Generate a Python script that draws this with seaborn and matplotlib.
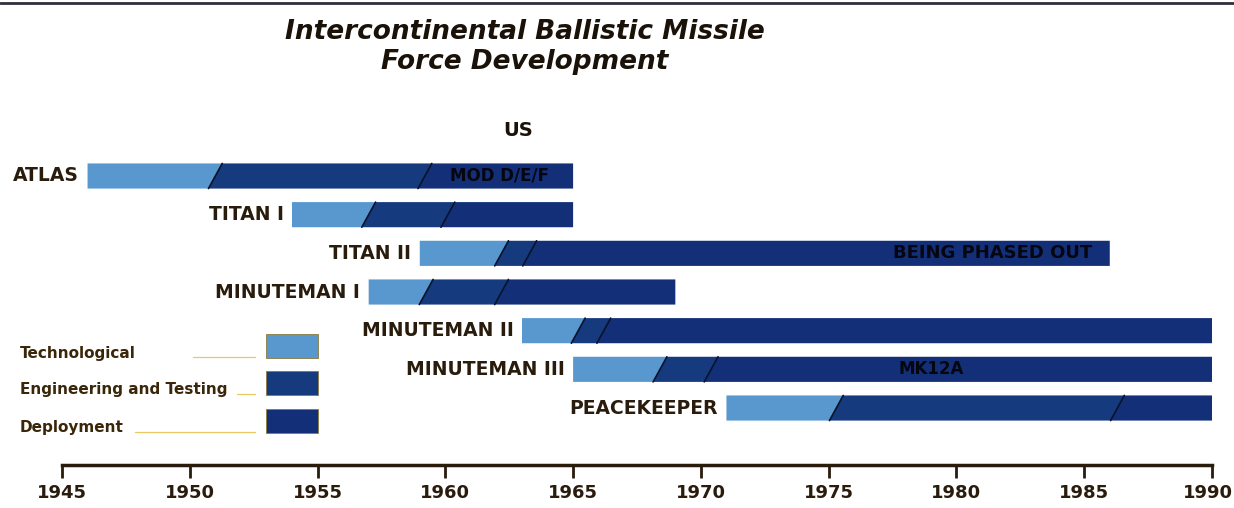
import matplotlib
matplotlib.use("Agg")
import matplotlib.pyplot as plt
import matplotlib.transforms as mtransforms
import seaborn as sns

# ICBM development phases (years)
missiles = ["ATLAS", "TITAN I", "TITAN II", "MINUTEMAN I",
            "MINUTEMAN II", "MINUTEMAN III", "PEACEKEEPER"]
tech_start = [1946.0, 1954.0, 1959.0, 1957.0, 1963.0, 1965.0, 1971.0]
eng_start = [1951.0, 1957.0, 1962.2, 1959.25, 1965.2, 1968.4, 1975.3]
deploy_start = [1959.2, 1960.1, 1963.3, 1962.2, 1966.2, 1970.4, 1986.3]
phase_end = [1965.0, 1965.0, 1986.0, 1969.0, 1990.0, 1990.0, 1990.0]

notes = ["MOD D/E/F", "", "BEING PHASED OUT", "", "", "MK12A", ""]
note_x = [1962.1, 0, 1981.4, 0, 0, 1979.0, 0]

phases = ["Technological", "Engineering and Testing", "Deployment"]
years = [1945, 1950, 1955, 1960, 1965, 1970, 1975, 1980, 1985, 1990]

sns.set_theme(style="white")
plt.rcParams["font.family"] = ["DejaVu Sans"]
colors = sns.color_palette(["#5898cf", "#163a7e", "#122f78"])
ink = "#2a1c0c"

fig = plt.figure(figsize=(12.34, 5.08), dpi=100)
ax = fig.add_axes([62 / 1234, 1 - 465 / 508, 1150 / 1234, 325 / 508])

h = 0.65
slant = 0.27


def segment(ax, row, x0, x1, s0, s1, color):
    top, bot = row - h / 2, row + h / 2
    xs = [x0 - s0, x0 + s0, x1 + s1, x1 - s1]
    ys = [bot, top, top, bot]
    ax.fill(xs, ys, color=color, lw=0)


for i, name in enumerate(missiles):
    bounds = [tech_start[i], eng_start[i], deploy_start[i], phase_end[i]]
    slants = [0, slant, slant, 0]
    for k in range(3):
        segment(ax, i, bounds[k], bounds[k + 1], slants[k], slants[k + 1], colors[k])
    for b in bounds[1:3]:
        ax.plot([b - slant, b + slant], [i + h / 2, i - h / 2], color="#08122a", lw=1.2)
    ax.text(tech_start[i] - 0.33, i, name, ha="right", va="center",
            fontsize=13.5, fontweight="bold", color=ink)
    if notes[i]:
        size = 13 if len(notes[i]) > 12 else 12
        ax.text(note_x[i], i, notes[i], ha="center", va="center",
                fontsize=size, fontweight="bold", color="#05060f")

# legend drawn as swatches with leader lines, like the original
leg_rows = [4.40, 5.35, 6.33]
leader_from = [1950.13, 1951.85, 1947.86]
for k, label in enumerate(phases):
    r = leg_rows[k]
    ax.add_patch(plt.Rectangle((1953.0, r - 0.31), 2.0, 0.62, facecolor=colors[k],
                               edgecolor="#8c7a3a", lw=0.6))
    ax.text(1943.36, r + 0.18, label, ha="left", va="center", fontsize=11,
            fontweight="bold", color="#3a2608", clip_on=False)
    ax.plot([leader_from[k], 1952.55], [r + 0.28, r + 0.28], color="#e8c860",
            lw=0.9, clip_on=False)

ax.set_xlim(1945, 1990)
ax.set_ylim(7.474, -0.931)
ax.set_xticks(years)
ax.set_xticklabels([str(y) for y in years], fontweight="bold", color=ink)
ax.set_yticks([])
ax.tick_params(axis="x", direction="out", length=9, width=2, pad=5,
               labelsize=13, colors=ink, bottom=True)
# keep the last year label inside the picture
last = ax.get_xticklabels()[-1]
last.set_transform(last.get_transform() + mtransforms.ScaledTranslation(-4 / 100, 0, fig.dpi_scale_trans))
sns.despine(ax=ax, left=True, top=True, right=True)
ax.spines["bottom"].set_linewidth(2.5)
ax.spines["bottom"].set_color(ink)

fig.text(0.4255, 1 - 32 / 508, "Intercontinental Ballistic Missile", ha="center",
         va="center", fontsize=19, fontweight="bold", style="italic", color="#1a1208")
fig.text(0.4255, 1 - 62 / 508, "Force Development", ha="center",
         va="center", fontsize=19, fontweight="bold", style="italic", color="#1a1208")
fig.text(518 / 1234, 1 - 130 / 508, "US", ha="center", va="center",
         fontsize=14, fontweight="bold", color="#1a1208")

fig.add_artist(plt.Line2D([0, 1], [1 - 3 / 508, 1 - 3 / 508], color="#30303c", lw=2))

fig.savefig("out.png", dpi=100)
